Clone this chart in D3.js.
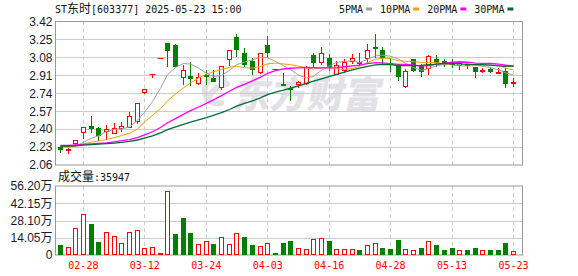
<!DOCTYPE html>
<html>
<head>
<meta charset="utf-8">
<title>ST东时 日K</title>
<script src="https://d3js.org/d3.v7.min.js" charset="utf-8"></script>
<style>
  body { margin: 0; background: #fff; }
  svg { display: block; background: #fff; }
  .ylab text { font: 12px "Liberation Sans", Arial, "Noto Sans CJK SC", sans-serif; fill: #1a1a2a; }
  .xlab text { font: 10px "DejaVu Sans Mono", monospace; fill: #f00; }
  .mono { font-family: "DejaVu Sans Mono", monospace; font-size: 10px; fill: #111; }
  .cjk { font-family: "Noto Sans CJK SC", sans-serif; font-size: 12px; fill: #111; }
</style>
</head>
<body>
<svg width="578" height="276"></svg>
<script>
// ---- data ----
const dates = ["02-25","02-26","02-27","02-28","03-03","03-04","03-05","03-06","03-07","03-10",
  "03-11","03-12","03-13","03-14","03-17","03-18","03-19","03-20","03-21","03-24",
  "03-25","03-26","03-27","03-28","03-31","04-01","04-02","04-03","04-07","04-08",
  "04-09","04-10","04-11","04-14","04-15","04-16","04-17","04-18","04-21","04-22",
  "04-23","04-24","04-25","04-28","04-29","04-30","05-06","05-07","05-08","05-09",
  "05-12","05-13","05-14","05-15","05-16","05-19","05-20","05-21","05-22","05-23"];

const opens = [2.23,2.20,2.27,2.37,2.43,2.41,2.38,2.36,2.41,2.42,
  2.48,2.75,2.92,3.07,3.22,3.20,2.89,2.90,2.84,2.91,
  2.88,2.80,3.06,3.27,3.12,3.05,2.94,3.20,2.97,2.83,
  2.79,2.83,2.84,3.10,3.04,3.07,2.92,2.96,3.05,3.03,
  3.07,3.18,3.15,3.03,3.00,2.81,3.06,3.00,2.98,3.06,
  3.05,3.03,3.01,3.02,2.99,2.95,2.97,2.93,2.95,2.84];
const highs = [2.24,2.22,2.30,2.42,2.52,2.42,2.44,2.46,2.47,2.56,
  2.65,2.78,2.92,3.07,3.22,3.21,3.01,3.04,2.93,2.96,
  2.96,3.00,3.15,3.30,3.17,3.07,3.12,3.28,2.97,2.93,
  2.81,2.86,3.00,3.12,3.18,3.11,3.05,3.06,3.11,3.12,
  3.21,3.30,3.18,3.07,3.00,2.97,3.06,3.02,3.10,3.10,
  3.06,3.06,3.05,3.03,2.99,2.98,2.99,2.98,2.98,2.88];
const lows = [2.18,2.17,2.26,2.32,2.37,2.30,2.31,2.36,2.38,2.42,
  2.46,2.74,2.89,3.07,3.00,3.00,2.83,2.82,2.83,2.83,
  2.86,2.78,3.01,3.09,3.00,2.92,2.93,3.08,2.97,2.82,
  2.68,2.80,2.83,2.99,3.02,2.96,2.92,2.94,3.03,3.01,
  3.03,3.08,3.03,2.95,2.87,2.80,2.95,2.90,2.92,3.00,
  3.00,2.99,2.97,2.98,2.89,2.94,2.94,2.93,2.80,2.81];
const closes = [2.21,2.21,2.30,2.42,2.41,2.34,2.40,2.41,2.43,2.52,
  2.65,2.78,2.92,3.07,3.15,3.00,2.96,2.88,2.89,2.90,
  2.86,3.00,3.15,3.16,3.02,2.97,3.12,3.13,2.97,2.82,
  2.78,2.85,2.99,3.04,3.12,2.99,3.01,3.04,3.07,3.04,
  3.15,3.17,3.08,3.02,2.90,2.95,2.96,2.95,3.09,3.04,
  3.03,3.02,3.03,3.01,2.95,2.96,2.95,2.94,2.84,2.85];
// volume, 万
const volumes = [8.1,6.2,21.7,33.4,25.2,10.6,18.5,15.5,9.5,18.5,
  20.1,5.7,6.2,1.6,51.9,17.1,30.1,17.9,9.0,11.4,
  9.0,14.4,9.0,17.6,14.7,8.1,7.1,9.5,1.6,9.8,
  11.4,5.4,4.6,12.8,13.6,11.4,4.6,4.6,4.6,4.1,
  7.9,9.5,5.4,4.9,12.2,4.6,3.8,5.7,11.4,7.9,
  4.1,5.4,3.8,3.8,5.4,3.8,3.8,3.8,9.8,3.59];

const ma5 = [2.236,2.228,2.24,2.276,2.313,2.337,2.377,2.399,2.401,2.421,
  2.483,2.559,2.661,2.789,2.915,2.985,3.022,3.016,2.979,2.928,
  2.900,2.907,2.958,3.011,3.035,3.057,3.081,3.077,3.041,3.001,
  2.964,2.912,2.885,2.899,2.959,3.000,3.032,3.042,3.048,3.030,
  3.062,3.094,3.101,3.091,3.064,3.025,2.983,2.958,2.972,3.000,
  3.013,3.026,3.041,3.024,3.006,2.995,2.982,2.965,2.934,2.913];
const ma10 = [2.239,2.235,2.241,2.259,2.277,2.287,2.303,2.32,2.339,2.36,
  2.40,2.468,2.53,2.595,2.668,2.734,2.79,2.839,2.884,2.922,
  2.943,2.965,2.987,2.995,2.982,2.979,2.994,3.018,3.026,3.018,
  3.011,2.997,2.981,2.97,2.98,2.982,2.972,2.964,2.974,2.995,
  3.031,3.063,3.072,3.07,3.047,3.044,3.039,3.03,3.032,3.032,
  3.019,3.005,3.0,2.998,3.003,3.004,3.004,3.003,2.979,2.96];
const ma20 = [2.245,2.245,2.25,2.255,2.26,2.265,2.27,2.28,2.29,2.30,
  2.32,2.345,2.375,2.415,2.46,2.50,2.54,2.575,2.61,2.644,
  2.677,2.717,2.759,2.795,2.825,2.857,2.892,2.929,2.955,2.97,
  2.977,2.981,2.984,2.983,2.981,2.981,2.983,2.991,3.0,3.007,
  3.021,3.03,3.027,3.02,3.014,3.013,3.006,2.997,3.003,3.014,
  3.025,3.034,3.036,3.034,3.025,3.024,3.022,3.017,3.006,2.996];
const ma30 = [2.24,2.24,2.242,2.248,2.254,2.257,2.262,2.268,2.274,2.283,
  2.297,2.315,2.337,2.365,2.396,2.421,2.445,2.467,2.488,2.510,
  2.531,2.556,2.586,2.617,2.643,2.667,2.696,2.726,2.750,2.769,
  2.788,2.810,2.833,2.854,2.877,2.899,2.919,2.940,2.961,2.978,
  2.995,3.008,3.013,3.012,3.003,3.002,3.002,3.004,3.011,3.016,
  3.021,3.022,3.018,3.013,3.011,3.011,3.006,3.000,2.996,2.997];

const priceTicks = [2.06,2.23,2.40,2.57,2.74,2.91,3.08,3.25,3.42];
const volTicks = [0,14.05,28.10,42.15,56.20];
const dateTicks = ["02-28","03-12","03-24","04-03","04-16","04-28","05-13","05-23"];

const maNames = ["5PMA","10PMA","20PMA","30PMA"];
const maSeries = [ma5, ma10, ma20, ma30];
const maColors = ["#a0a0a0","#f0a000","#ff00ff","#006b33"];

// ---- layout ----
const left = 55.5, right = 522.5;
const mainTop = 21.5, mainBottom = 165;
const volTop = 186, volBottom = 255;
const RED = "#ff0000", GREEN = "#008000";

const svg = d3.select('svg');

const x = d3.scaleBand().domain(dates).range([56.5, 517.3]).padding(0);
const cx = (d) => Math.floor(x(d) + x.bandwidth() / 2) + 0.5;
const y = d3.scaleLinear().domain([2.06, 3.42]).range([mainBottom, mainTop]);
const yv = d3.scaleLinear().domain([0, 56.20]).range([volBottom, volTop]);

// watermark (logo + name)
const wmCol = '#e2e2e6';
const wm = svg.append('g').attr('fill', 'none').attr('stroke', wmCol).attr('stroke-width', 6).attr('stroke-linecap', 'round');
wm.append('path').attr('d', 'M224,79 A13,13 0 1,0 221,103');
wm.append('path').attr('d', 'M207,99 Q214,86 227,84');
svg.append('text').attr('transform', 'translate(232,108) skewX(-12)')
  .attr('fill', wmCol)
  .style('font-family', '"Noto Sans CJK SC", sans-serif').style('font-size', '37px').style('font-weight', 900)
  .text('东方财富');

// grids
function grid(top, bottom, hTicks, scale) {
  const g = svg.append('g');
  g.selectAll('line.h').data(hTicks).enter().append('line')
    .attr('x1', left).attr('x2', right)
    .attr('y1', (d) => Math.round(scale(d)) + 0.5).attr('y2', (d) => Math.round(scale(d)) + 0.5)
    .attr('stroke', '#cccccc');
  g.selectAll('line.v').data(dateTicks).enter().append('line')
    .attr('x1', (d) => cx(d)).attr('x2', (d) => cx(d))
    .attr('y1', top).attr('y2', bottom)
    .attr('stroke', '#cccccc').attr('stroke-dasharray', '4,3');
  g.append('rect').attr('x', left).attr('y', top).attr('width', right - left).attr('height', bottom - top)
    .attr('fill', 'none').attr('stroke', '#999999');
}
grid(mainTop, mainBottom, priceTicks.slice(1, -1), y);
grid(volTop, volBottom, volTicks.slice(1, -1), yv);

// axes
svg.append('g').attr('class', 'ylab').attr('transform', `translate(${left},0)`)
  .call(d3.axisLeft(y).tickValues(priceTicks).tickSize(0).tickPadding(3).tickFormat(d3.format('.2f')))
  .call((g) => g.select('.domain').remove());
svg.append('g').attr('class', 'ylab').attr('transform', `translate(${left},0)`)
  .call(d3.axisLeft(yv).tickValues(volTicks).tickSize(0).tickPadding(3)
    .tickFormat((d) => d === 0 ? '0' : d3.format('.2f')(d) + '万'))
  .call((g) => g.select('.domain').remove());
svg.append('g').attr('class', 'xlab').attr('transform', `translate(0,${volBottom})`)
  .call(d3.axisBottom(x).tickValues(dateTicks).tickSize(0).tickPadding(7))
  .call((g) => g.select('.domain').remove());

// candles
const candles = dates.map((d, i) => ({
  d, o: opens[i], h: highs[i], l: lows[i], c: closes[i], v: volumes[i],
  up: i === 0 ? closes[i] >= opens[i] : closes[i] >= closes[i - 1]
}));

const cg = svg.append('g');
candles.forEach((k) => {
  const px = cx(k.d);
  let col;
  if (k.c > k.o) col = RED; else if (k.c < k.o) col = GREEN; else col = k.up ? RED : GREEN;
  cg.append('line').attr('x1', px).attr('x2', px)
    .attr('y1', Math.round(y(k.h))).attr('y2', Math.round(y(k.l)) + 1)
    .attr('stroke', col);
  const yo = Math.round(y(k.o)), yc = Math.round(y(k.c));
  if (Math.abs(yo - yc) < 1) {
    cg.append('line').attr('x1', px - 3).attr('x2', px + 3)
      .attr('y1', yc + 0.5).attr('y2', yc + 0.5).attr('stroke', col);
  } else if (k.c > k.o) {
    cg.append('rect').attr('x', px - 2).attr('y', yc + 0.5)
      .attr('width', 4).attr('height', yo - yc)
      .attr('fill', '#fff').attr('stroke', RED);
  } else {
    cg.append('rect').attr('x', px - 2.5).attr('y', yo)
      .attr('width', 5).attr('height', yc - yo + 1)
      .attr('fill', GREEN);
  }
});

// moving averages
svg.append('clipPath').attr('id', 'plot')
  .append('rect').attr('x', left).attr('y', mainTop).attr('width', right - left).attr('height', mainBottom - mainTop);
maSeries.forEach((s, j) => {
  svg.append('path')
    .datum(s)
    .attr('clip-path', 'url(#plot)')
    .attr('fill', 'none')
    .attr('stroke', maColors[j])
    .attr('stroke-width', j > 1 ? 1.3 : 1)
    .attr('d', d3.line().x((v, i) => cx(dates[i])).y((v) => y(v)));
});

// volume bars
const vg = svg.append('g');
candles.forEach((k) => {
  const px = cx(k.d);
  const top = Math.round(yv(k.v));
  if (k.up) {
    vg.append('rect').attr('x', px - 2).attr('y', top + 0.5)
      .attr('width', 4).attr('height', volBottom - top - 1)
      .attr('fill', '#fff').attr('stroke', RED);
  } else {
    vg.append('rect').attr('x', px - 2.5).attr('y', top)
      .attr('width', 5).attr('height', volBottom - top)
      .attr('fill', GREEN);
  }
});

// title
const title = svg.append('text').attr('x', 55).attr('y', 13);
title.append('tspan').attr('class', 'mono').text('ST');
title.append('tspan').attr('class', 'cjk').text('东时');
title.append('tspan').attr('class', 'mono').text('[603377] 2025-05-23 15:00');

// legend
let lx = 339;
maNames.forEach((n, j) => {
  const t = svg.append('text').attr('class', 'mono').attr('x', lx).attr('y', 12.5).text(n);
  const w = t.node().getComputedTextLength();
  svg.append('rect').attr('x', lx + w + 3).attr('y', 7.5).attr('width', 6).attr('height', 3)
    .attr('fill', maColors[j]);
  lx += w + 3 + 6 + 8;
});

// volume label
const vt = svg.append('text').attr('x', 58).attr('y', 181);
vt.append('tspan').attr('class', 'cjk').text('成交量');
vt.append('tspan').attr('class', 'mono').text(':35947');
</script>
</body>
</html>
